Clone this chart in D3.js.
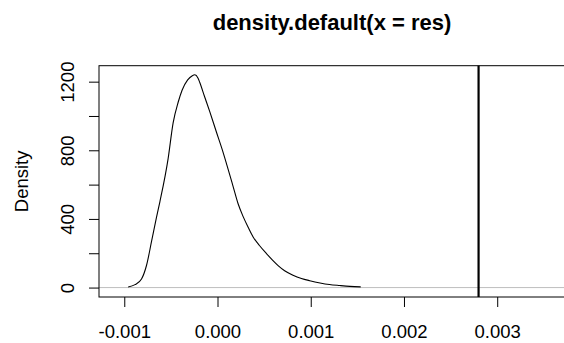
<!DOCTYPE html>
<html>
<head>
<meta charset="utf-8">
<script src="https://cdn.jsdelivr.net/npm/d3@7"></script>
<style>
  html, body { margin: 0; padding: 0; background: #fff; }
  svg { display: block; }
  text { font-family: "Liberation Sans", Arial, Helvetica, sans-serif; fill: #000; }
</style>
</head>
<body>
<svg id="chart" width="564" height="343"></svg>
<script>
// Kernel density estimate of the residuals (x in residual units, y = density)
const densityX = [-0.000958, -0.000885, -0.000815, -0.000761, -0.000707, -0.000654, -0.000618,
  -0.000530, -0.000476, -0.000422, -0.000380, -0.000320, -0.000270, -0.000243, -0.000210,
  -0.000190, -0.000140, -0.000083, -0.000011, 0.000050, 0.000100, 0.000167, 0.000220,
  0.000274, 0.000330, 0.000382, 0.000450, 0.000525, 0.000590, 0.000650, 0.000720,
  0.000810, 0.000900, 0.000990, 0.001100, 0.001200, 0.001311, 0.001420, 0.001536];
const densityY = [3, 17, 50, 130, 270, 410, 500,
  750, 960, 1080, 1150, 1210, 1235, 1240, 1222,
  1195, 1115, 1025, 905, 805, 715, 590, 490,
  415, 350, 295, 245, 198, 160, 128, 98,
  72, 53, 40, 27, 18, 12, 7, 4];

// Observed statistic marked with a vertical line
const markValue = 0.0028;

// Axis ticks
const xTicks = [-0.001, 0.000, 0.001, 0.002, 0.003];
const xTickLabels = ["-0.001", "0.000", "0.001", "0.002", "0.003"];
const yTicks = [0, 200, 400, 600, 800, 1000, 1200];
const yTickLabels = ["0", "", "400", "", "800", "", "1200"];

const titleText = "density.default(x = res)";
const yTitle = "Density";

const svg = d3.select("#chart");
const plot = { left: 99, right: 565, top: 65.7, bottom: 297 };

const x = d3.scaleLinear().domain([-0.001271, 0.003727]).range([plot.left, plot.right]);
const y = d3.scaleLinear().domain([-55, 1293]).range([plot.bottom, plot.top]);

// Zero line
svg.append("line")
  .attr("x1", plot.left).attr("x2", plot.right)
  .attr("y1", y(0)).attr("y2", y(0))
  .attr("stroke", "#bebebe").attr("stroke-width", 1);

// Density curve
const pts = densityX.map((d, i) => [d, densityY[i]]);
svg.append("path")
  .datum(pts)
  .attr("fill", "none")
  .attr("stroke", "#000")
  .attr("stroke-width", 1.1)
  .attr("d", d3.line().x(d => x(d[0])).y(d => y(d[1])).curve(d3.curveMonotoneX));

// Vertical marker
svg.append("line")
  .attr("x1", x(markValue)).attr("x2", x(markValue))
  .attr("y1", plot.top).attr("y2", plot.bottom)
  .attr("stroke", "#000").attr("stroke-width", 2.2);

// Plot box
svg.append("rect")
  .attr("x", plot.left).attr("y", plot.top)
  .attr("width", plot.right - plot.left).attr("height", plot.bottom - plot.top)
  .attr("fill", "none").attr("stroke", "#000").attr("stroke-width", 1);

// X axis
const gx = svg.append("g")
  .attr("transform", `translate(0,${plot.bottom})`)
  .call(d3.axisBottom(x).tickValues(xTicks).tickSize(10).tickSizeOuter(0)
    .tickFormat((d, i) => xTickLabels[i]));
gx.select(".domain").remove();
gx.selectAll(".tick line").attr("stroke", "#000");
gx.selectAll(".tick text")
  .attr("y", 40.5).attr("dy", 0)
  .style("font-size", "18.5px");

// Y axis
const gy = svg.append("g")
  .attr("transform", `translate(${plot.left},0)`)
  .call(d3.axisLeft(y).tickValues(yTicks).tickSize(10).tickSizeOuter(0)
    .tickFormat((d, i) => yTickLabels[i]));
gy.select(".domain").remove();
gy.selectAll(".tick line").attr("stroke", "#000");
gy.selectAll(".tick text")
  .attr("x", 0).attr("y", 0).attr("dy", 0)
  .attr("text-anchor", "middle")
  .attr("transform", "translate(-25,0) rotate(-90)")
  .style("font-size", "18.5px");

// Titles
svg.append("text")
  .attr("x", (plot.left + plot.right) / 2).attr("y", 30)
  .attr("text-anchor", "middle")
  .style("font-size", "22px").style("font-weight", "bold")
  .text(titleText);

svg.append("text")
  .attr("transform", `translate(28,${(plot.top + plot.bottom) / 2}) rotate(-90)`)
  .attr("text-anchor", "middle")
  .style("font-size", "18.5px")
  .text(yTitle);
</script>
</body>
</html>
